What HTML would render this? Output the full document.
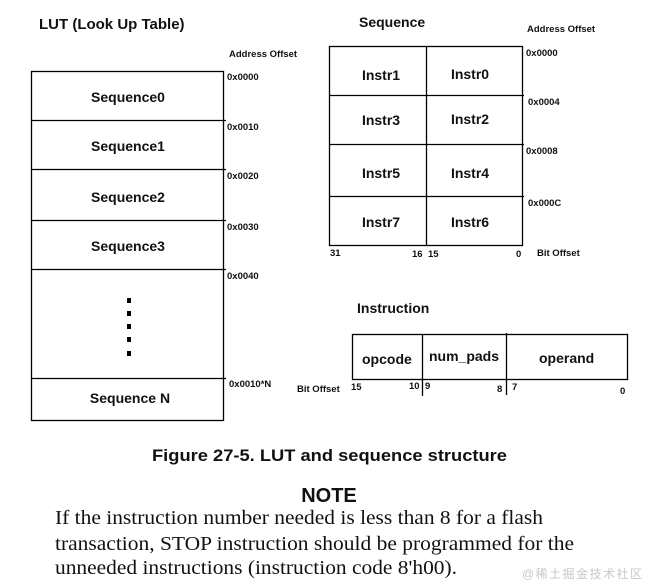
<!DOCTYPE html>
<html><head><meta charset="utf-8"><style>
html,body{margin:0;padding:0;background:#fff;}
svg{display:block;}
.b{font-family:"Liberation Sans",Arial,sans-serif;font-weight:bold;fill:#111;}
.s{font-family:"Liberation Serif","Times New Roman",serif;fill:#111;}
</style></head><body>
<svg width="647" height="586" viewBox="0 0 647 586" xmlns="http://www.w3.org/2000/svg">
<g fill="none" stroke="#000" stroke-width="1.3">
<rect x="31.5" y="71.5" width="192" height="349"/>
<line x1="31" y1="120.5" x2="226" y2="120.5"/>
<line x1="31" y1="169.5" x2="226" y2="169.5"/>
<line x1="31" y1="220.5" x2="226" y2="220.5"/>
<line x1="31" y1="269.5" x2="226" y2="269.5"/>
<line x1="31" y1="378.5" x2="226" y2="378.5"/>
<rect x="329.5" y="46.5" width="193" height="199"/>
<line x1="329" y1="95.5" x2="524" y2="95.5"/>
<line x1="329" y1="144.5" x2="524" y2="144.5"/>
<line x1="329" y1="196.5" x2="524" y2="196.5"/>
<line x1="426.5" y1="46" x2="426.5" y2="246"/>
<rect x="352.5" y="334.5" width="275" height="45"/>
<line x1="422.5" y1="334" x2="422.5" y2="396"/>
<line x1="506.5" y1="333" x2="506.5" y2="395"/>
</g>
<g fill="#000">
<rect x="127" y="298" width="4" height="5"/>
<rect x="127" y="311" width="4" height="5"/>
<rect x="127" y="324" width="4" height="5"/>
<rect x="127" y="337" width="4" height="5"/>
<rect x="127" y="351" width="4" height="5"/>
</g>
<text class="b" x="39" y="29" font-size="15">LUT (Look Up Table)</text>
<text class="b" x="229" y="57" font-size="9.5">Address Offset</text>
<g class="b" font-size="9.5">
<text x="227" y="80">0x0000</text>
<text x="227" y="130">0x0010</text>
<text x="227" y="179">0x0020</text>
<text x="227" y="230">0x0030</text>
<text x="227" y="279">0x0040</text>
<text x="229" y="387">0x0010*N</text>
</g>
<g class="b" font-size="14" text-anchor="middle">
<text x="128" y="102">Sequence0</text>
<text x="128" y="151">Sequence1</text>
<text x="128" y="202">Sequence2</text>
<text x="128" y="251">Sequence3</text>
<text x="130" y="403">Sequence N</text>
</g>
<text class="b" x="359" y="27" font-size="14">Sequence</text>
<text class="b" x="527" y="32" font-size="9.5">Address Offset</text>
<g class="b" font-size="9.5">
<text x="526" y="56">0x0000</text>
<text x="528" y="105">0x0004</text>
<text x="526" y="154">0x0008</text>
<text x="528" y="206">0x000C</text>
<text x="330" y="256">31</text>
<text x="412" y="257">16</text>
<text x="428" y="257">15</text>
<text x="516" y="257">0</text>
<text x="537" y="256">Bit Offset</text>
</g>
<g class="b" font-size="14" text-anchor="middle">
<text x="381" y="80">Instr1</text>
<text x="470" y="79">Instr0</text>
<text x="381" y="125">Instr3</text>
<text x="470" y="124">Instr2</text>
<text x="381" y="178">Instr5</text>
<text x="470" y="178">Instr4</text>
<text x="381" y="227">Instr7</text>
<text x="470" y="227">Instr6</text>
</g>
<text class="b" x="357" y="313" font-size="14">Instruction</text>
<g class="b" font-size="14">
<text x="362" y="364">opcode</text>
<text x="429" y="361">num_pads</text>
<text x="539" y="363">operand</text>
</g>
<g class="b" font-size="9.5">
<text x="297" y="392">Bit Offset</text>
<text x="351" y="390">15</text>
<text x="409" y="389">10</text>
<text x="425" y="389">9</text>
<text x="497" y="392">8</text>
<text x="512" y="390">7</text>
<text x="620" y="394">0</text>
</g>
<text class="b" x="152" y="461" font-size="17" textLength="355" lengthAdjust="spacingAndGlyphs">Figure 27-5. LUT and sequence structure</text>
<text class="b" x="329" y="502" font-size="20" text-anchor="middle">NOTE</text>
<g class="s" font-size="20">
<text x="55" y="524" textLength="488" lengthAdjust="spacingAndGlyphs">If the instruction number needed is less than 8 for a flash</text>
<text x="55" y="550" textLength="519" lengthAdjust="spacingAndGlyphs">transaction, STOP instruction should be programmed for the</text>
<text x="55" y="574" textLength="402" lengthAdjust="spacingAndGlyphs">unneeded instructions (instruction code 8'h00).</text>
</g>
<text x="522" y="578" font-size="12" fill="#c8c8c8" font-family="'Liberation Sans','Noto Sans CJK SC',sans-serif" textLength="120">@稀土掘金技术社区</text>
</svg>
</body></html>
